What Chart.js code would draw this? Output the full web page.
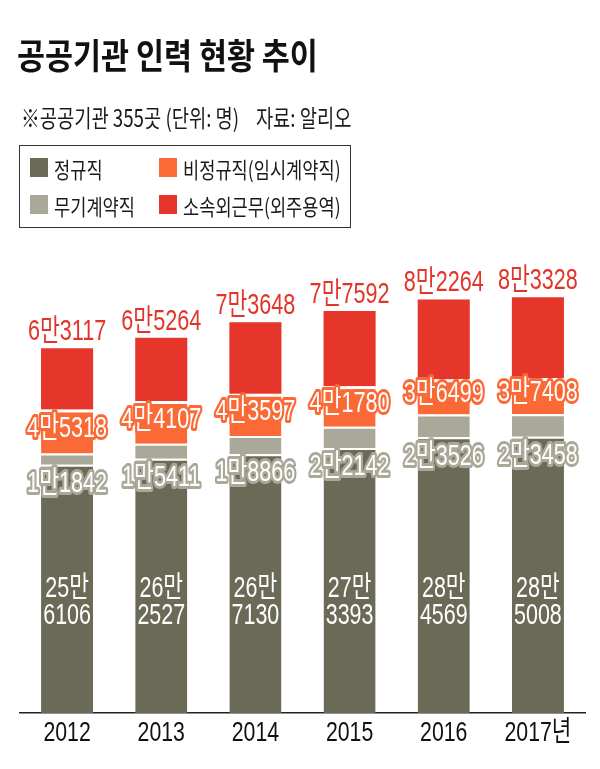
<!DOCTYPE html>
<html><head><meta charset="utf-8">
<script src="https://cdn.jsdelivr.net/npm/chart.js@4/dist/chart.umd.min.js"></script>
<style>
html,body{margin:0;padding:0;background:#fff;width:600px;height:769px;overflow:hidden;}
#wrap{position:relative;width:600px;height:769px;}
#c{position:absolute;left:0;top:0;}
.t{position:absolute;white-space:nowrap;transform-origin:0 0;font-family:'Noto Sans CJK KR',sans-serif;color:#111;line-height:1;}
#title{left:17px;top:36px;font-size:35px;font-weight:700;transform:scaleX(0.87);}
#sub{left:21px;top:105px;font-size:24px;transform:scaleX(0.78);color:#1a1a1a;}
#legend{position:absolute;left:19px;top:145px;width:330px;height:81px;border:1.5px solid #333;}
.li{position:absolute;font-family:'Noto Sans CJK KR',sans-serif;font-size:22px;line-height:1;color:#1a1a1a;white-space:nowrap;}
.sw{position:absolute;width:18px;height:19px;}
.lt{position:absolute;transform-origin:0 0;transform:scaleX(0.8);}
</style></head>
<body><div id="wrap">
<canvas id="c" width="600" height="769"></canvas>
<div class="t" id="title">공공기관 인력 현황 추이</div>
<div class="t" id="sub">※공공기관 355곳 (단위: 명)&nbsp;&nbsp;&nbsp;&nbsp;자료: 알리오</div>
<div id="legend"></div>
</div>
<script>
// ---- data ----
const years = ['2012', '2013', '2014', '2015', '2016', '2017년'];
const regular = [256106, 262527, 267130, 273393, 284569, 285008];      // 정규직
const indefinite = [11842, 15411, 18866, 22142, 23526, 23458];         // 무기계약직
const nonRegular = [45318, 44107, 43597, 41780, 36499, 37408];         // 비정규직(임시계약직)
const outsourced = [63117, 65264, 73648, 77592, 82264, 83328];         // 소속외근무(외주용역)
const seriesNames = ['정규직', '무기계약직', '비정규직(임시계약직)', '소속외근무(외주용역)'];
const seriesColors = ['#6b6a57', '#aaa898', '#fb6a36', '#e6352a'];

// ---- HTML legend (2 columns) ----
const legendOrder = [[0, 8, 10], [2, 137, 10], [1, 8, 47], [3, 137, 47]];
const lg = document.getElementById('legend');
legendOrder.forEach(([si, lx, ly]) => {
  const sw = document.createElement('div');
  sw.className = 'sw';
  sw.style.left = (lx + 2) + 'px'; sw.style.top = (ly + 2) + 'px';
  sw.style.background = seriesColors[si];
  lg.appendChild(sw);
  const t = document.createElement('div');
  t.className = 'li lt';
  t.style.left = (lx + 26) + 'px'; t.style.top = (ly + 1) + 'px';
  t.textContent = seriesNames[si];
  lg.appendChild(t);
});

function fmt(v) {
  const man = Math.floor(v / 10000), rest = v % 10000;
  return [man + '만', String(rest).padStart(4, '0')];
}

const FONT = "'Liberation Sans','Noto Sans CJK KR',sans-serif";
function drawText(ctx, text, x, y, o) {
  ctx.save();
  ctx.translate(x, y);
  ctx.scale(o.sx || 1, 1);
  ctx.font = (o.weight || '400') + ' ' + o.size + 'px ' + FONT;
  ctx.textAlign = 'center';
  ctx.textBaseline = o.baseline || 'middle';
  if (o.stroke) {
    ctx.lineJoin = 'round';
    ctx.lineWidth = o.lw || 5;
    ctx.strokeStyle = o.stroke;
    ctx.strokeText(text, 0, 0);
  }
  ctx.fillStyle = o.fill;
  ctx.fillText(text, 0, 0);
  ctx.restore();
}

const labelPlugin = {
  id: 'segLabels',
  afterDatasetsDraw(chart) {
    const ctx = chart.ctx;
    const m = [0, 1, 2, 3].map(i => chart.getDatasetMeta(i).data);
    const bottom = chart.chartArea.bottom;
    years.forEach((_, i) => {
      const b0 = m[0][i], b1 = m[1][i], b2 = m[2][i], b3 = m[3][i];
      const x = b0.x;
      // top (outsourced) label
      drawText(ctx, fmt(outsourced[i]).join(''), x, b3.y - 8,
        {size: 30, fill: '#e2352a', baseline: 'alphabetic', sx: 0.72});
      // non-regular label (orange outline)
      drawText(ctx, fmt(nonRegular[i]).join(''), x, (b2.y + b2.base) / 2 - 3,
        {size: 30, fill: '#fff', stroke: '#fb6a36', lw: 6, sx: 0.72});
      // indefinite label (gray outline), just below its segment
      drawText(ctx, fmt(indefinite[i]).join(''), x, b1.base + 19,
        {size: 30, fill: '#fff', stroke: '#aaa898', lw: 6, sx: 0.72});
      // regular label: two lines
      const f = fmt(regular[i]);
      drawText(ctx, f[0], x, bottom - 124, {size: 29, fill: '#fff', sx: 0.74});
      drawText(ctx, f[1], x, bottom - 97, {size: 29, fill: '#fff', sx: 0.74});
    });
  }
};

// x tick labels drawn condensed at the scale's own tick positions
const tickPlugin = {
  id: 'condTicks',
  afterDraw(chart) {
    const xs = chart.scales.x, ctx = chart.ctx;
    xs.ticks.forEach((t, i) => {
      drawText(ctx, xs.getLabelForValue(t.value), xs.getPixelForTick(i), xs.top + 20,
        {size: 28, fill: '#111', sx: 0.76});
    });
  }
};

const mk = (idx, data, bw) => ({
  label: seriesNames[idx], data, backgroundColor: seriesColors[idx],
  borderColor: '#ffffff', borderWidth: bw, borderSkipped: false,
  categoryPercentage: 1.0, barPercentage: 0.553
});

new Chart(document.getElementById('c'), {
  type: 'bar',
  data: {
    labels: years,
    datasets: [
      mk(0, regular, {top: 2, bottom: 0, left: 0, right: 0}),
      mk(1, indefinite, {top: 2, bottom: 0, left: 0, right: 0}),
      mk(2, nonRegular, {top: 3, bottom: 0, left: 0, right: 0}),
      mk(3, outsourced, 0)
    ]
  },
  options: {
    responsive: false, animation: false, devicePixelRatio: 1,
    layout: {padding: {left: 20, right: 15, top: 277, bottom: 0}},
    plugins: {legend: {display: false}, tooltip: {enabled: false}},
    scales: {
      x: {
        stacked: true,
        grid: {display: false, drawTicks: false},
        border: {display: true, color: '#222', width: 1.5},
        ticks: {display: false},
        afterFit: (s) => { s.height = 56; }
      },
      y: {stacked: true, display: false, min: 0, max: 450000}
    }
  },
  plugins: [labelPlugin, tickPlugin]
});
</script>
</body></html>
